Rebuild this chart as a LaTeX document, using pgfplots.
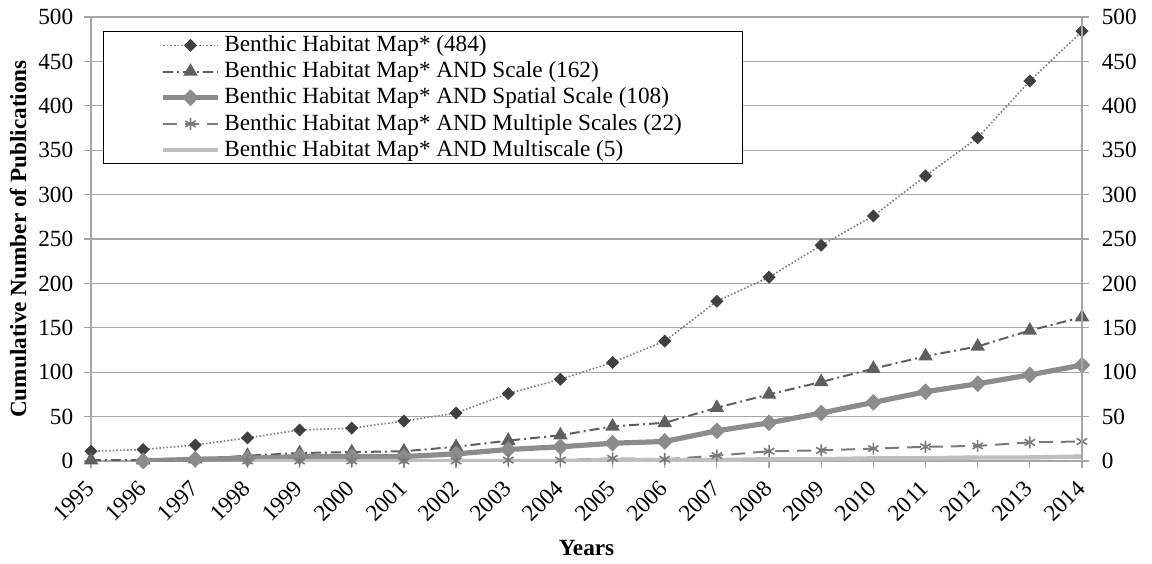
\documentclass[border=0pt]{standalone}
\usepackage{fontspec}
\setmainfont{Liberation Serif}
\usepackage{pgfplots}
\pgfplotsset{compat=1.18}

\definecolor{gridgray}{HTML}{A6A6A6}
\definecolor{sA}{HTML}{404040}
\definecolor{sAline}{HTML}{7F7F7F}
\definecolor{sB}{HTML}{5F5F5F}
\definecolor{sC}{HTML}{8C8C8C}
\definecolor{sD}{HTML}{7A7A7A}
\definecolor{sE}{HTML}{BFBFBF}

\pgfplotsset{
  common/.style={
    scale only axis, width=495.5pt, height=222pt,
    at={(0,0)}, anchor=south west,
    xmin=1995, xmax=2014, ymin=0, ymax=500,
    ytick={0,50,...,500},
    tick align=outside, major tick length=3.4pt,
    tick style={gridgray, line width=0.6pt},
    axis line style={gridgray, line width=0.6pt},
    /pgf/number format/assume math mode=true,
    /pgf/number format/1000 sep={},
    ticklabel style={font=\fontsize{11.6}{13}\selectfont},
  },
  longleg/.style={legend image code/.code={
    \draw[mark repeat=2,mark phase=2] plot coordinates {(0cm,0cm)(0.48cm,0cm)(0.96cm,0cm)};}},
}

\begin{document}
\begin{tikzpicture}
\path[use as bounding box] (-45.5pt,-51pt) rectangle (530.5pt,230.5pt);
\begin{axis}[common,
  axis x line*=bottom, axis y line*=left,
  xtick={1995,...,2014},
  xticklabel style={xshift=2pt, yshift=-6pt, rotate=45, anchor=east},
  yticklabel style={xshift=-2pt},
  ymajorgrids, grid style={gridgray, line width=0.6pt},
  xlabel={Years},
  ylabel={Cumulative Number of Publications},
  label style={font=\fontsize{11.6}{13}\selectfont\bfseries},
  xlabel style={at={(axis description cs:0.5,0)}, anchor=center, yshift=-43.5pt},
  ylabel style={at={(axis description cs:0,0.5)}, anchor=center, yshift=36.5pt},
  legend style={at={(axis description cs:0.0121,0.9685)}, anchor=north west,
    draw=black, line width=0.6pt, inner xsep=28.5pt, inner ysep=0.3pt,
    font=\fontsize{11.6}{13}\selectfont, row sep=0pt,
    cells={anchor=west, text height=7.6pt, text depth=2.5pt, inner ysep=1pt}},
  legend cell align=left,
  longleg,
]
\addplot[sAline, densely dotted, line width=0.8pt,
  mark=square*, mark size=1.9pt, mark options={solid, rotate=45, fill=sA, draw=sA}]
  coordinates {(1995,11) (1996,13) (1997,18) (1998,26) (1999,35) (2000,37) (2001,45)
  (2002,54) (2003,76) (2004,92) (2005,111) (2006,135) (2007,180) (2008,207)
  (2009,243) (2010,276) (2011,321) (2012,364) (2013,428) (2014,484)};
\addlegendentry{Benthic Habitat Map* (484)}
\addplot[sB, dash pattern=on 5pt off 2pt on 1pt off 2pt, line width=1pt,
  mark=triangle*, mark size=3.2pt, mark options={solid, fill=sB}]
  coordinates {(1995,1) (1996,1) (1997,2) (1998,6) (1999,9) (2000,10) (2001,11)
  (2002,16) (2003,23) (2004,29) (2005,39) (2006,43) (2007,60) (2008,75)
  (2009,89) (2010,104) (2011,118) (2012,129) (2013,147) (2014,162)};
\addlegendentry{Benthic Habitat Map* AND Scale (162)}
\addplot[sC, solid, line width=2.6pt,
  mark=square*, mark size=2.7pt, mark options={rotate=45, fill=sC, line width=0.5pt}]
  coordinates {(1996,0) (1997,2) (1998,3) (1999,5) (2000,5) (2001,5)
  (2002,8) (2003,13) (2004,16) (2005,20) (2006,22) (2007,34) (2008,43)
  (2009,54) (2010,66) (2011,78) (2012,87) (2013,97) (2014,108)};
\addlegendentry{Benthic Habitat Map* AND Spatial Scale (108)}
\addplot[sD, dash pattern=on 7pt off 4pt, line width=1pt,
  mark=asterisk, mark size=3pt, mark options={solid, line width=0.8pt}]
  coordinates {(1998,0) (1999,0) (2000,0) (2001,0)
  (2002,0) (2003,1) (2004,1) (2005,3) (2006,2) (2007,6) (2008,11)
  (2009,12) (2010,14) (2011,16) (2012,17) (2013,21) (2014,22)};
\addlegendentry{Benthic Habitat Map* AND Multiple Scales (22)}
\addplot[sE, solid, line width=2.2pt, mark=none]
  coordinates {(1998,0) (1999,0) (2000,0) (2001,0)
  (2002,0) (2003,0) (2004,0) (2005,1) (2006,1) (2007,1) (2008,2)
  (2009,2) (2010,3) (2011,3) (2012,4) (2013,4) (2014,5)};
\addlegendentry{Benthic Habitat Map* AND Multiscale (5)}
\end{axis}
\begin{axis}[common,
  axis x line=none, axis y line*=right,
  yticklabel pos=right,
  yticklabel style={xshift=3pt},
]
\addplot[draw=none] coordinates {(1995,0) (2014,0)};
\end{axis}
\end{tikzpicture}
\end{document}
